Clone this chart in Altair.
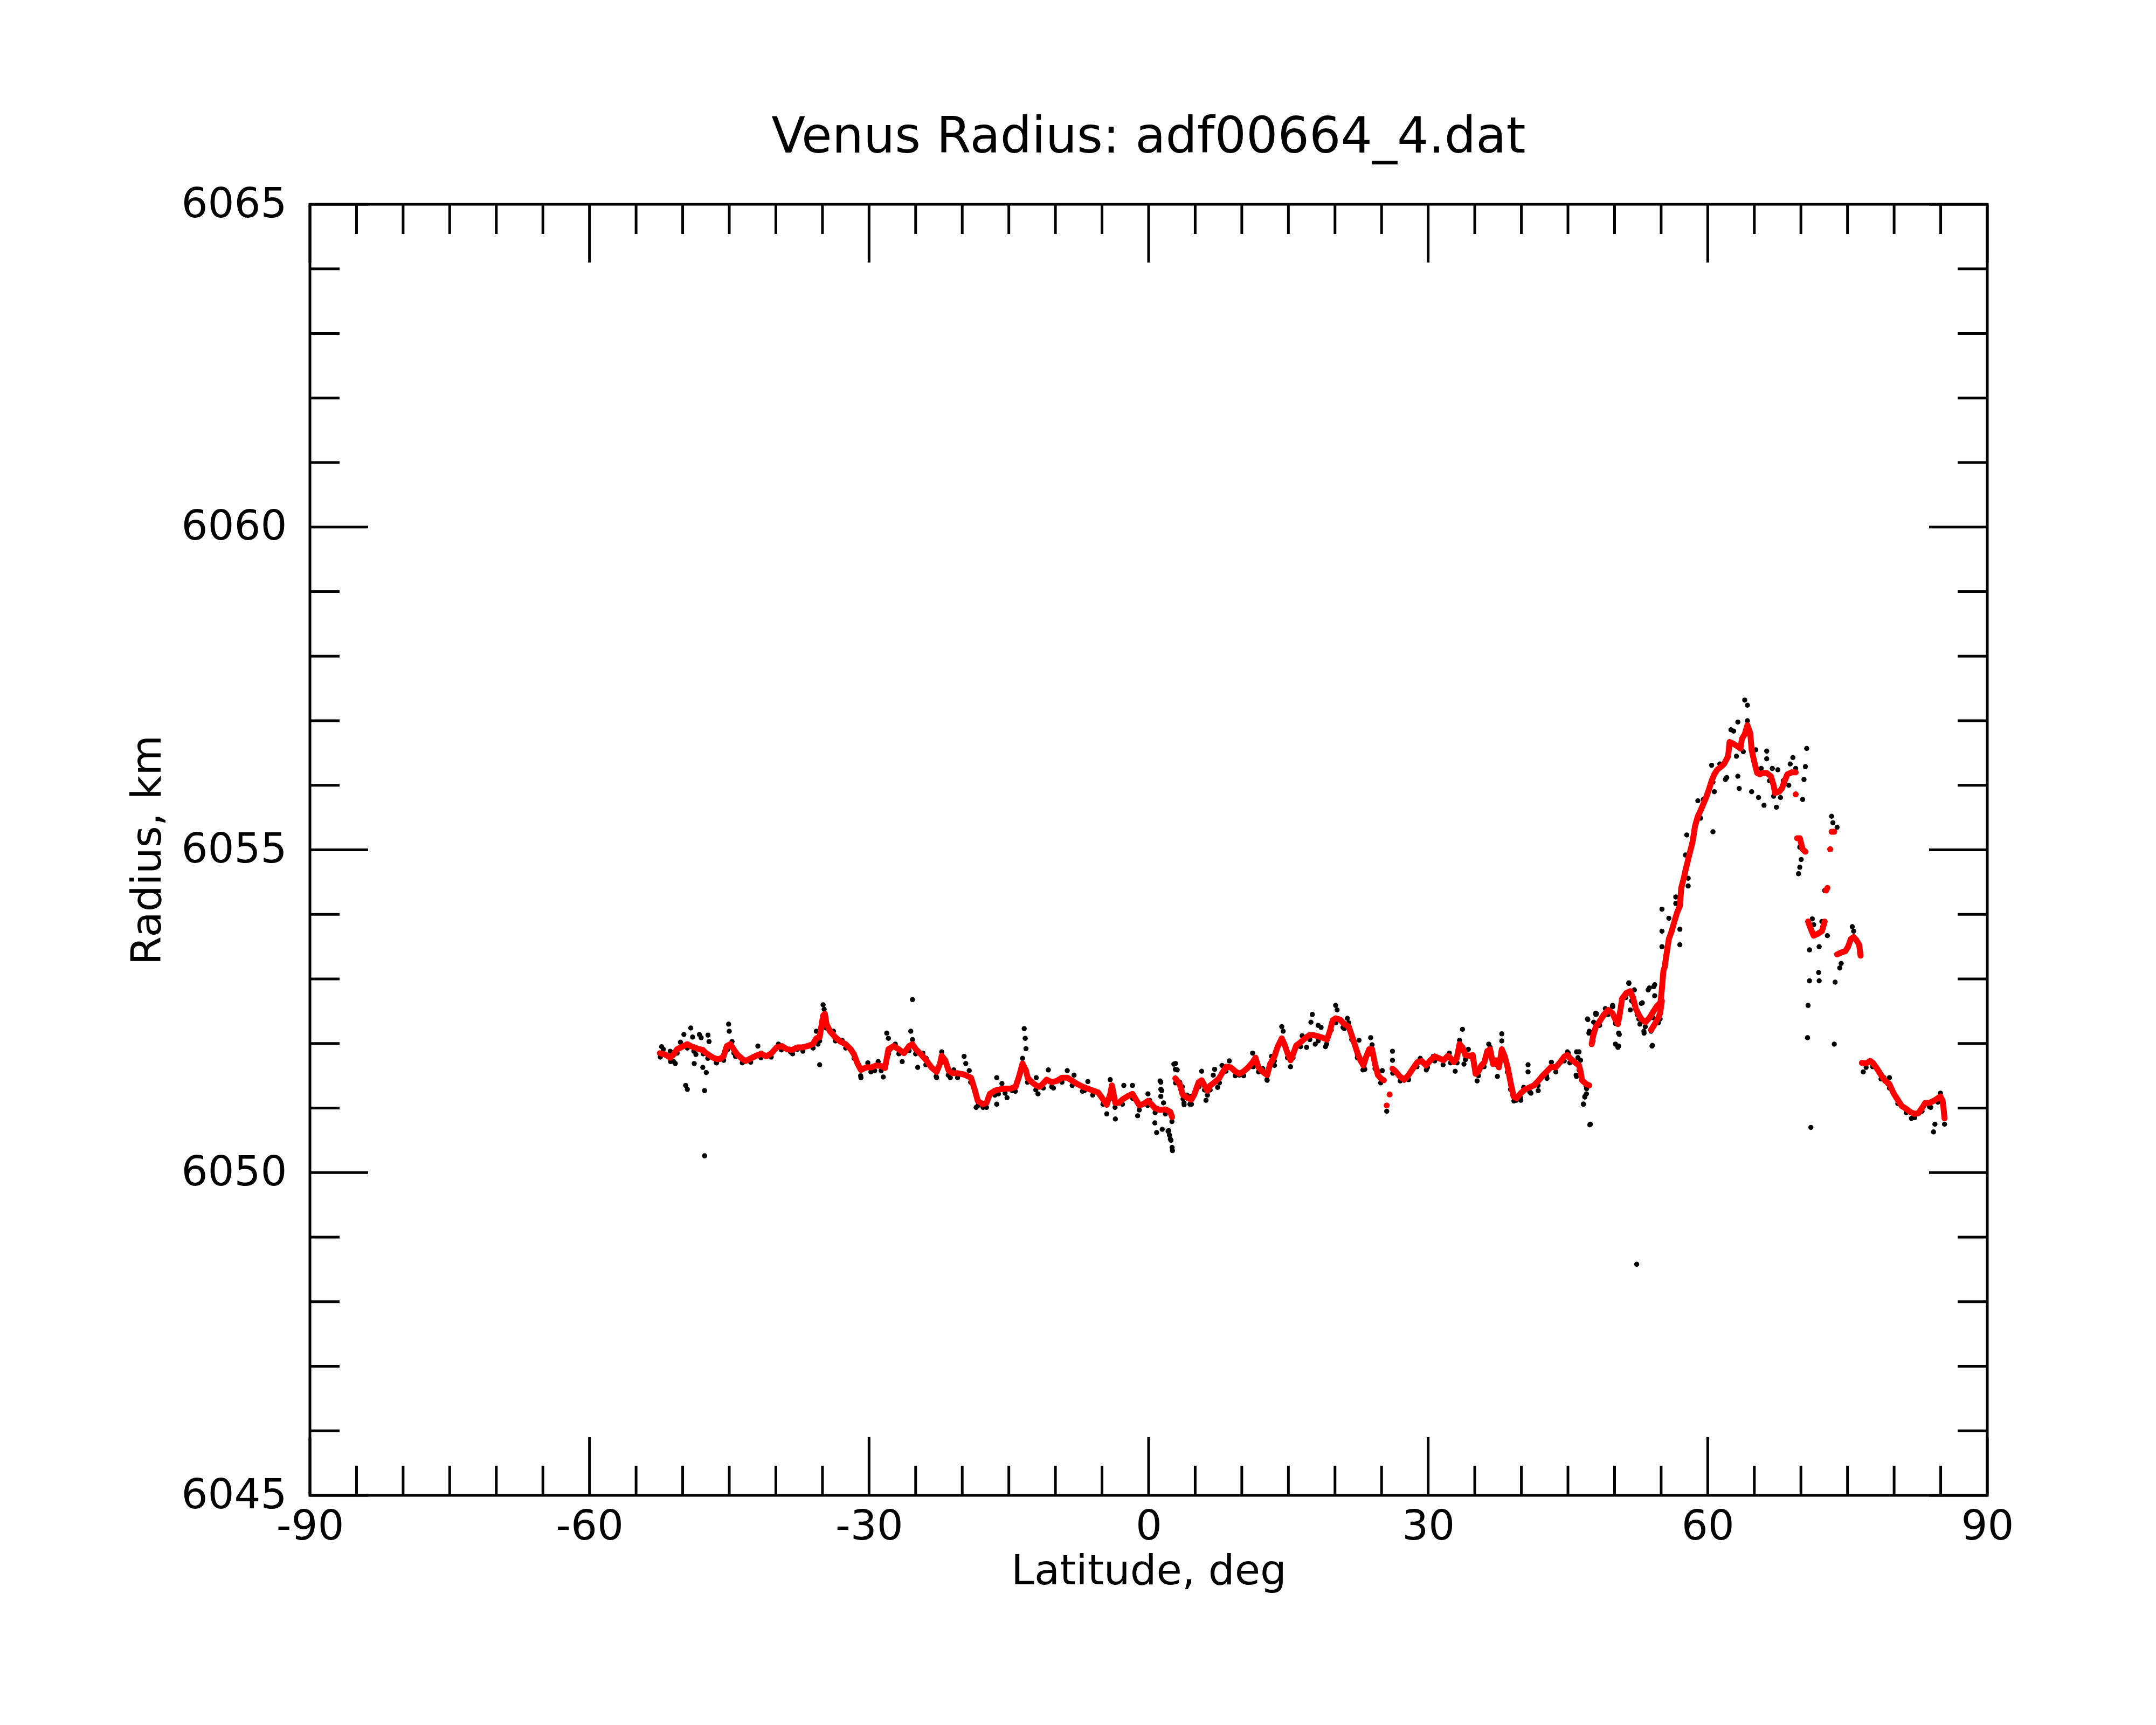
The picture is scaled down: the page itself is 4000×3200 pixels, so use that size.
import altair as alt
import pandas as pd

W, H = 3112, 2395
FONT = "DejaVu Sans"

TITLE = "Venus Radius: adf00664_4.dat"
X_TITLE = "Latitude, deg"
Y_TITLE = "Radius, km"

x_major = [-90, -60, -30, 0, 30, 60, 90]
x_minor = [-85, -80, -75, -70, -65, -55, -50, -45, -40, -35, -25, -20, -15, -10, -5,
           5, 10, 15, 20, 25, 35, 40, 45, 50, 55, 65, 70, 75, 80, 85]
y_major = [6045, 6050, 6055, 6060, 6065]
y_minor = [6046, 6047, 6048, 6049, 6051, 6052, 6053, 6054, 6056, 6057, 6058, 6059,
           6061, 6062, 6063, 6064]

# ---- red (smoothed) series, by continuous segment ----
A_lat = [-52.45,-51.90,-51.34,-50.97,-50.60,-50.05,-49.50,-49.13,-48.76,-48.21,
         -47.84,-47.65,-47.28,-46.73,-46.36,-45.99,-45.62,-45.44,-45.26,-44.89,
         -44.52,-44.15,-43.60,-43.23,-42.67,-42.12,-41.57,-41.01,-40.46,-39.91,
         -39.35,-38.80,-38.25,-37.69,-37.14,-36.59,-36.03,-35.66,-35.30,-34.93,
         -34.74,-34.56,-34.19,-33.64,-33.08,-32.53,-31.97,-31.61,-31.24,-30.87,
         -30.31,-29.76,-29.21,-28.66,-28.29,-27.92,-27.36,-26.81,-26.26,-25.70,
         -25.34,-24.97,-24.41,-23.86,-23.31,-22.75,-22.38,-22.20,-21.83,-21.46,
         -21.09,-20.54,-19.80,-19.06,-18.69,-18.33,-17.77,-17.40,-17.03,-16.48,
         -15.93,-15.37,-14.82,-14.27,-13.90,-13.53,-13.16,-12.98,-12.61,-12.06,
         -11.69,-11.32,-10.95,-10.40,-9.84,-9.29,-8.73,-8.18,-7.63,-7.07,
         -6.51,-5.97,-5.41,-4.86,-4.49,-4.11,-3.94,-3.57,-3.20,-2.83,
         -2.28,-1.73,-1.36,-0.99,-0.62,-0.07,0.30,0.67,1.22,1.78,
         2.33,2.52]
A_r = [6051.85,6051.83,6051.78,6051.83,6051.91,6051.95,6051.99,6051.96,6051.94,6051.91,
       6051.90,6051.87,6051.83,6051.78,6051.76,6051.76,6051.80,6051.88,6051.96,6051.99,
       6051.91,6051.83,6051.76,6051.73,6051.77,6051.81,6051.84,6051.80,6051.85,6051.94,
       6051.96,6051.91,6051.90,6051.94,6051.94,6051.96,6051.99,6052.08,6052.10,6052.43,
       6052.46,6052.30,6052.19,6052.10,6052.03,6051.99,6051.91,6051.83,6051.69,6051.59,
       6051.63,6051.63,6051.66,6051.65,6051.62,6051.91,6051.96,6051.91,6051.85,6051.96,
       6051.99,6051.91,6051.83,6051.74,6051.63,6051.56,6051.69,6051.81,6051.74,6051.58,
       6051.54,6051.54,6051.52,6051.47,6051.30,6051.11,6051.06,6051.08,6051.22,6051.27,
       6051.29,6051.30,6051.30,6051.33,6051.49,6051.69,6051.58,6051.47,6051.41,6051.35,
       6051.33,6051.38,6051.44,6051.40,6051.42,6051.47,6051.47,6051.42,6051.37,6051.33,
       6051.30,6051.27,6051.24,6051.13,6051.05,6051.22,6051.35,6051.08,6051.08,6051.13,
       6051.18,6051.22,6051.13,6051.04,6051.06,6051.11,6051.06,6051.00,6050.97,6050.98,
       6050.94,6050.86]

B_lat = [2.87,3.34,3.65,4.12,4.59,4.90,5.37,5.69,6.00,6.31,
         6.62,7.09,7.56,7.88,8.34,8.81,9.28,9.75,10.22,10.69,
         11.16,11.47,11.79,12.25,12.72,13.04,13.51,13.82,14.29,14.60,
         14.91,15.23,15.54,15.85,16.32,16.79,17.26,17.73,18.20,18.67,
         19.14,19.45,19.61,19.76,20.07,20.54,21.01,21.48,21.79,22.11,
         22.42,22.73,23.05,23.36,23.67,23.98,24.30,24.61,24.92,25.24]
B_r = [6051.46,6051.37,6051.21,6051.16,6051.13,6051.21,6051.40,6051.43,6051.35,6051.27,
       6051.35,6051.40,6051.46,6051.54,6051.64,6051.63,6051.57,6051.53,6051.57,6051.63,
       6051.71,6051.78,6051.63,6051.56,6051.51,6051.68,6051.80,6051.94,6052.08,6051.98,
       6051.85,6051.74,6051.85,6051.97,6052.02,6052.08,6052.13,6052.13,6052.11,6052.09,
       6052.06,6052.19,6052.28,6052.36,6052.39,6052.37,6052.30,6052.26,6052.13,6051.99,
       6051.85,6051.74,6051.66,6051.80,6051.91,6051.91,6051.68,6051.51,6051.46,6051.43]

C_lat = [26.17,26.49,26.96,27.43,27.89,28.36,28.83,29.30,29.77,30.24,
         30.71,31.18,31.65,32.12,32.43,32.74,33.06,33.37,33.68,33.99,
         34.46,34.78,35.09,35.40,35.71,36.03,36.34,36.65,36.97,37.28,
         37.59,37.90,38.22,38.53,38.84,39.16,39.47,39.94,40.41,40.88,
         41.34,41.81,42.28,42.75,43.22,43.69,44.16,44.63,44.94,45.25,
         45.72,46.19,46.35,46.51,46.98,47.29]
C_r = [6051.61,6051.57,6051.49,6051.44,6051.51,6051.61,6051.71,6051.73,6051.66,6051.74,
       6051.80,6051.77,6051.74,6051.81,6051.77,6051.71,6051.77,6051.99,6051.94,6051.82,
       6051.81,6051.82,6051.53,6051.57,6051.66,6051.71,6051.88,6051.91,6051.68,6051.74,
       6051.63,6051.91,6051.80,6051.63,6051.40,6051.18,6051.15,6051.23,6051.29,6051.32,
       6051.35,6051.42,6051.50,6051.57,6051.64,6051.63,6051.71,6051.80,6051.82,6051.77,
       6051.71,6051.66,6051.57,6051.43,6051.37,6051.35]

D_lat = [47.55,47.69,47.99,48.43,48.88,49.32,49.77,50.06,50.36,50.51,
         50.65,50.80,51.24,51.69,51.98,52.28,52.58,52.87,53.32,53.76,
         54.06,54.50,54.94,55.09,55.24,55.39,55.53,55.68,55.83,56.13,
         56.42,56.72,57.01,57.16,57.46,57.61,57.90,58.05,58.35,58.49,
         58.64,58.94,59.23,59.53,59.82,60.12,60.42,60.71,61.01,61.45,
         61.75,62.19,62.34,62.78,63.23,63.52,63.67,63.97,64.26,64.56,
         64.71,65.00,65.30,65.59,65.89,66.33,66.78,67.07,67.22,67.66,
         67.96,68.26,68.55,69.00,69.44]
D_r = [6051.99,6052.11,6052.26,6052.35,6052.45,6052.52,6052.47,6052.38,6052.30,6052.42,
       6052.54,6052.69,6052.78,6052.81,6052.71,6052.54,6052.45,6052.38,6052.33,6052.40,
       6052.47,6052.57,6052.64,6052.86,6053.12,6053.19,6053.34,6053.48,6053.62,6053.74,
       6053.89,6054.03,6054.13,6054.41,6054.58,6054.68,6054.85,6054.94,6055.11,6055.23,
       6055.37,6055.52,6055.61,6055.71,6055.81,6055.93,6056.07,6056.17,6056.24,6056.29,
       6056.33,6056.45,6056.67,6056.64,6056.60,6056.57,6056.72,6056.79,6056.93,6056.81,
       6056.55,6056.36,6056.19,6056.17,6056.19,6056.19,6056.14,6056.00,6055.88,6055.90,
       6055.95,6056.07,6056.17,6056.20,6056.20]

E_lat = [69.59, 69.88, 70.18, 70.48]
E_r = [6055.18, 6055.18, 6055.01, 6054.97]
F_lat = [70.77, 71.07, 71.37, 71.81, 72.25, 72.55]
F_r = [6053.89, 6053.77, 6053.67, 6053.70, 6053.74, 6053.89]
G_lat = [72.70, 72.84]
G_r = [6054.37, 6054.41]
K_lat = [73.29, 73.58]
K_r = [6055.28, 6055.28]
L_lat = [73.88, 74.32, 74.77, 75.06, 75.36, 75.66, 75.95, 76.25, 76.40]
L_r = [6053.38, 6053.41, 6053.43, 6053.50, 6053.62, 6053.65, 6053.60, 6053.53, 6053.36]
M_lat = [76.54,76.98,77.43,77.72,78.17,78.61,79.06,79.50,79.94,80.38,80.83,81.27,
         81.72,82.16,82.60,83.05,83.34,83.79,84.23,84.67,84.97,85.21,85.33,85.41]
M_r = [6051.70,6051.69,6051.73,6051.70,6051.61,6051.51,6051.42,6051.37,6051.23,6051.13,
       6051.03,6050.99,6050.94,6050.91,6050.92,6051.01,6051.08,6051.08,6051.11,6051.15,
       6051.18,6051.11,6050.96,6050.84]
N_lat = [53.92, 54.31, 54.70, 54.89, 55.08]
N_r = [6052.21, 6052.30, 6052.40, 6052.47, 6052.66]
iso_lat = [25.55, 25.86, 69.44, 73.14]
iso_r = [6051.04, 6051.21, 6055.86, 6055.01]

# ---- black (raw) points ----
blk1_lat = [-52.26,-52.08,-51.34,-50.97,-50.79,-50.24,-49.87,-49.68,-49.50,-49.13,
            -48.94,-48.76,-48.58,-48.21,-48.02,-47.84,-47.47,-47.65,-47.28,-47.17,
            -47.65,-46.36,-45.07,-45.00,-44.70,-44.33,-43.41,-41.93,-41.57,-39.72,
            -38.43,-37.69,-36.40,-35.66,-35.48,-35.30,-34.93,-34.82,-33.82,-32.90,
            -31.61,-30.87,-30.13,-29.39,-29.02,-28.47,-28.10,-27.92,-27.73,-27.18,
            -26.44,-25.52,-25.34,-25.34,-24.78,-24.23,-23.86,-22.75,-22.20,-21.28,
            -20.91,-19.80,-19.62,-19.25,-18.51,-17.77,-16.30,-16.30,-16.11,-15.74,
            -15.19,-14.64,-13.35,-13.24,-13.16,-13.53,-11.87,-12.06,-10.76,-10.21,
            -8.73,-8.00,-6.89,-6.52,-4.49,-4.12,-3.57,-2.66,-1.73,-1.18,
            -0.07,0.12,0.67,0.86,1.23,1.41,1.60,1.96,2.15,2.33,
            2.52,2.89,3.07,3.80,3.62]
blk1_r = [6051.95,6051.91,6051.88,6051.72,6051.69,6052.02,6052.14,6051.35,6051.29,6052.24,
          6052.10,6051.69,6051.83,6052.14,6052.09,6051.63,6051.55,6051.27,6052.13,6052.03,
          6050.26,6051.70,6052.30,6052.19,6052.03,6051.80,6051.72,6051.96,6051.85,6051.99,
          6051.87,6051.91,6051.96,6052.19,6051.99,6051.67,6052.60,6052.53,6052.19,6052.05,
          6051.83,6051.47,6051.70,6051.58,6051.72,6051.48,6052.16,6052.08,6051.91,6051.99,
          6051.72,6052.19,6052.68,6052.06,6051.63,6051.85,6051.77,6051.47,6051.87,6051.47,
          6051.59,6051.80,6051.69,6051.58,6051.01,6051.01,6051.47,6051.06,6051.22,6051.38,
          6051.16,6051.27,6052.23,6052.08,6051.92,6051.77,6051.22,6051.47,6051.59,6051.31,
          6051.58,6051.51,6051.27,6051.41,6050.91,6051.44,6050.83,6051.35,6051.35,6050.88,
          6051.22,6051.12,6050.77,6050.62,6051.42,6051.27,6051.08,6050.97,6050.65,6050.52,
          6050.39,6051.69,6051.59,6051.08,6051.33]

blk2_lat = [1.31,1.31,1.31,1.46,2.09,2.24,2.40,2.56,2.71,2.87,
            3.34,3.81,4.12,4.43,4.59,5.69,6.16,6.31,6.94,7.09,
            7.41,7.88,8.66,9.75,10.53,11.16,11.47,12.25,12.72,13.19,
            13.51,14.29,14.44,15.23,16.48,16.95,17.57,17.42,17.88,18.20,
            18.51,18.98,20.07,20.23,20.86,21.33,21.48,22.42,22.58,23.20,
            23.83,23.98,24.61,25.08,25.24,25.55,26.17,26.17,27.43,29.15,
            29.93,30.55,32.27,32.90,33.68,33.37,33.84,34.31,35.25,36.50,
            36.65,37.43,37.90,37.90,38.84,39.47,39.94,40.25,40.72,40.72,
            41.03,41.81,42.75,43.22,44.94,45.10,45.88,46.19,46.35,46.66,
            46.82,46.98,47.13,47.29,47.35,47.76,48.07,49.01,49.79,50.10]
blk2_r = [6051.40,6051.29,6051.18,6050.67,6050.64,6050.58,6050.50,6050.34,6051.68,6051.60,
          6051.40,6051.05,6051.20,6051.06,6051.18,6051.57,6051.12,6051.20,6051.51,6051.60,
          6051.32,6051.66,6051.73,6051.51,6051.61,6051.85,6051.78,6051.61,6051.43,6051.80,
          6051.66,6052.26,6052.19,6051.64,6052.12,6051.94,6052.45,6052.33,6051.99,6052.28,
          6052.25,6051.95,6052.59,6052.52,6052.25,6052.39,6052.32,6051.82,6052.05,6051.60,
          6052.09,6051.98,6051.57,6051.58,6051.43,6050.95,6051.88,6051.74,6051.43,6051.77,
          6051.63,6051.80,6051.85,6051.57,6052.22,6052.05,6051.68,6051.91,6051.42,6051.99,
          6051.94,6051.49,6052.15,6052.04,6051.29,6051.12,6051.12,6051.32,6051.67,6051.56,
          6051.23,6051.27,6051.46,6051.71,6051.87,6051.80,6051.51,6051.87,6051.74,6051.06,
          6051.18,6051.22,6052.37,6052.19,6050.74,6052.33,6052.46,6052.54,6052.59,6051.99]

blk3_lat = [45.03,45.92,46.07,45.92,46.66,46.81,47.40,46.95,47.10,47.25,
            47.99,48.14,49.17,49.77,50.51,50.36,51.54,51.69,52.13,52.43,
            52.87,52.72,53.17,53.46,53.61,53.91,54.06,54.20,54.65,54.94,
            55.09,55.09,55.09,55.83,56.57,56.57,57.01,57.01,57.61,57.75,
            57.90,57.90,58.94,59.23,59.53,60.42,60.56,60.56,60.71,61.30,
            61.90,62.04,62.49,62.78,63.08,63.23,63.23,63.38,63.82,63.97,
            64.26,64.26,64.71,65.15,65.45,65.74,66.04,66.33,66.33,66.63,
            66.93,67.07,67.37,67.52,67.81,68.11,68.70,68.85,69.14,69.44,
            69.74,69.88,70.03,69.88,70.18,70.33,70.48,70.62,70.77,70.71,
            70.92,70.92,71.07,71.22,71.37,71.96,71.96,71.90,72.25,72.55,
            72.84,73.29,73.43,73.88,73.58,73.67,74.17,74.32,75.51,75.66,
            76.69,78.91,79.35,79.50,81.86,83.93,84.23,84.38,84.97,85.41,
            52.38]
blk3_r = [6051.85,6051.87,6051.78,6051.49,6051.06,6051.17,6050.75,6051.34,6052.38,6052.16,
          6052.45,6052.30,6052.52,6052.57,6052.14,6051.94,6052.93,6052.52,6052.83,6052.45,
          6052.62,6052.30,6052.16,6052.35,6052.83,6052.21,6051.97,6052.88,6052.35,6052.47,
          6054.08,6053.74,6053.50,6053.94,6054.27,6054.17,6053.77,6053.53,6054.92,6055.23,
          6054.56,6054.44,6055.76,6055.49,6055.78,6056.31,6055.28,6056.05,6055.90,6056.33,
          6056.09,6056.12,6056.86,6056.84,6056.45,6056.98,6056.14,6055.95,6056.52,6057.32,
          6057.24,6057.00,6055.90,6056.55,6055.81,6056.26,6055.69,6056.53,6056.41,6056.07,
          6056.26,6055.83,6055.66,6056.24,6055.81,6056.07,6056.00,6056.33,6056.43,6056.26,
          6054.63,6055.04,6054.85,6054.73,6055.78,6056.09,6056.29,6056.57,6052.59,6052.09,
          6053.45,6052.97,6050.70,6053.93,6053.84,6053.50,6052.97,6053.10,6053.89,6054.37,
          6053.67,6055.52,6055.42,6055.35,6051.99,6052.95,6053.17,6053.24,6053.81,6053.74,
          6051.56,6051.47,6051.37,6051.47,6050.84,6051.01,6050.63,6050.75,6051.23,6050.75,
          6048.58]

# black points hugging the underside of the red curve
blk4_lat = [-52.4,-51.3,-50.6,-49.5,-48.8,-47.8,-47.3,-46.4,-45.6,-45.2,
            -44.5,-43.6,-42.7,-41.6,-40.5,-39.4,-38.2,-37.1,-36.0,-35.3,
            -34.6,-33.6,-32.5,-31.6,-30.9,-29.8,-28.7,-27.9,-26.8,-25.7,
            -25.0,-23.9,-22.8,-22.2,-21.5,-20.5,-19.1,-18.3,-17.4,-16.5,
            -15.4,-14.3,-13.5,-13.0,-12.1,-11.3,-10.4,-9.3,-8.2,-7.1,
            -6.0,-4.9,-4.1,-3.6,-2.8,-1.7,-1.0,-0.1,0.7,1.8,
            2.5,
            2.9,3.7,4.6,5.4,6.0,6.6,7.6,8.3,9.3,10.2,
            11.2,11.8,12.7,13.5,14.3,14.9,15.5,16.3,17.3,18.2,
            19.1,19.6,20.1,21.0,21.8,22.4,23.0,23.7,24.3,24.9,
            26.2,27.0,27.9,28.8,29.8,30.7,31.6,32.4,33.1,34.0,
            34.8,35.4,36.0,36.6,37.3,37.9,38.5,39.2,39.9,40.9,
            41.8,42.7,43.7,44.6,45.2,46.2,47.0,
            47.7,48.4,49.3,50.1,50.6,51.2,52.0,52.6,53.3,54.1,54.9,
            77.0,77.7,78.6,79.5,80.4,81.3,82.2,83.0,83.8,84.7]
blk4_r = [6051.79,6051.72,6051.85,6051.93,6051.88,6051.84,6051.77,6051.70,6051.74,6051.90,
          6051.85,6051.70,6051.71,6051.78,6051.79,6051.90,6051.84,6051.88,6051.93,6052.04,
          6052.24,6052.04,6051.93,6051.77,6051.50,6051.56,6051.58,6051.84,6051.84,6051.89,
          6051.84,6051.67,6051.49,6051.74,6051.51,6051.47,6051.40,6051.04,6051.01,6051.20,
          6051.23,6051.26,6051.62,6051.40,6051.28,6051.31,6051.33,6051.40,6051.35,6051.26,
          6051.20,6051.06,6051.15,6051.01,6051.06,6051.15,6050.97,6051.04,6050.93,6050.91,
          6050.79,
          6051.39,6051.14,6051.06,6051.33,6051.28,6051.28,6051.39,6051.57,6051.50,6051.50,
          6051.64,6051.56,6051.44,6051.73,6052.01,6051.78,6051.78,6051.95,6052.06,6052.04,
          6051.99,6052.21,6052.32,6052.23,6052.06,6051.78,6051.59,6051.84,6051.61,6051.39,
          6051.54,6051.42,6051.44,6051.64,6051.59,6051.73,6051.67,6051.70,6051.70,6051.75,
          6051.75,6051.50,6051.64,6051.84,6051.67,6051.84,6051.56,6051.11,6051.16,6051.25,
          6051.35,6051.50,6051.56,6051.73,6051.70,6051.59,6051.30,
          6052.04,6052.28,6052.45,6052.31,6052.47,6052.71,6052.64,6052.38,6052.26,6052.40,6052.57,
          6051.63,6051.64,6051.45,6051.31,6051.07,6050.93,6050.85,6050.95,6051.02,6051.09]

blk5_lat = [53.73, 54.31, 54.31, 52.98, 53.15, 53.92, 50.44, 50.44, 54.02, 47.98,
            51.53, 49.80, 51.83, 54.89, 54.70]
blk5_r = [6052.86, 6052.91, 6052.74, 6052.63, 6052.19, 6052.19, 6052.16, 6051.96, 6051.96, 6052.47,
          6052.94, 6052.57, 6052.66, 6052.38, 6052.32]

# ---- tables ----
red_parts = [("A", A_lat, A_r), ("B", B_lat, B_r), ("C", C_lat, C_r), ("D", D_lat, D_r),
             ("E", E_lat, E_r), ("F", F_lat, F_r), ("G", G_lat, G_r), ("K", K_lat, K_r),
             ("L", L_lat, L_r), ("M", M_lat, M_r), ("N", N_lat, N_r)]
rows = []
for name, la, rr in red_parts:
    assert len(la) == len(rr), name
    for a, b in zip(la, rr):
        rows.append({"lat": a, "r": b, "seg": name})
for i, (a, b) in enumerate(zip(iso_lat, iso_r)):
    rows.append({"lat": a, "r": b, "seg": "iso%d" % i})
red_df = pd.DataFrame(rows)

brows = []
for la, rr in [(blk1_lat, blk1_r), (blk2_lat, blk2_r), (blk3_lat, blk3_r),
               (blk4_lat, blk4_r), (blk5_lat, blk5_r)]:
    assert len(la) == len(rr)
    for a, b in zip(la, rr):
        brows.append({"lat": a, "r": b})
black_df = pd.DataFrame(brows)

xs = alt.Scale(domain=[-90, 90], nice=False, zero=False)
ys = alt.Scale(domain=[6045, 6065], nice=False, zero=False)

common_axis = dict(labelFontSize=77, titleFontSize=77, labelFont=FONT, titleFont=FONT,
                   titleFontWeight="normal", labelColor="black", titleColor="black",
                   domain=False, ticks=False, grid=False, labelLimit=1000,
                   labelFlush=False, labelOverlap=False, labelExpr="'' + datum.value")
x_axis = alt.Axis(values=x_major, title=X_TITLE, labelPadding=20, titlePadding=7, **common_axis)
y_axis = alt.Axis(values=y_major, title=Y_TITLE, labelPadding=43, titlePadding=62, **common_axis)

X = lambda: alt.X("lat:Q", scale=xs, axis=x_axis)
Y = lambda: alt.Y("r:Q", scale=ys, axis=y_axis)

black = alt.Chart(black_df).mark_circle(color="black", size=90, opacity=1).encode(x=X(), y=Y())
red_line = alt.Chart(red_df).mark_line(color="red", strokeWidth=11, strokeCap="round",
                                       strokeJoin="round").encode(
    x=X(), y=Y(), detail="seg:N", order="lat:Q")
red_pts = alt.Chart(red_df).mark_circle(color="red", size=100, opacity=1).encode(x=X(), y=Y())

MAJ, MIN = 108, 55


def xticks(vals, y0, y1):
    return alt.Chart(pd.DataFrame({"lat": vals})).mark_rule(color="black", strokeWidth=5).encode(
        x=X(), y=alt.value(y0), y2=alt.value(y1))


def yticks(vals, x0, x1):
    return alt.Chart(pd.DataFrame({"r": vals})).mark_rule(color="black", strokeWidth=5).encode(
        y=Y(), x=alt.value(x0), x2=alt.value(x1))


tick_layers = [
    xticks(x_major, H, H - MAJ), xticks(x_minor, H, H - MIN),
    xticks(x_major, 0, MAJ), xticks(x_minor, 0, MIN),
    yticks(y_major, 0, MAJ), yticks(y_minor, 0, MIN),
    yticks(y_major, W, W - MAJ), yticks(y_minor, W, W - MIN),
]

title_layer = alt.Chart(pd.DataFrame({"t": [TITLE]})).mark_text(
    fontSize=92, font=FONT, color="black", align="center", baseline="alphabetic").encode(
    text="t:N", x=alt.value(W / 2), y=alt.value(-96))

chart = alt.layer(black, red_line, red_pts, *tick_layers, title_layer).properties(
    width=W, height=H,
    padding={"left": 567, "top": 371, "right": 305, "bottom": 418},
    autosize=alt.AutoSizeParams(type="none"),
    background="white",
).configure_view(stroke="black", strokeWidth=5)

chart.save("out.html", embed_options={"renderer": "svg", "actions": False})
